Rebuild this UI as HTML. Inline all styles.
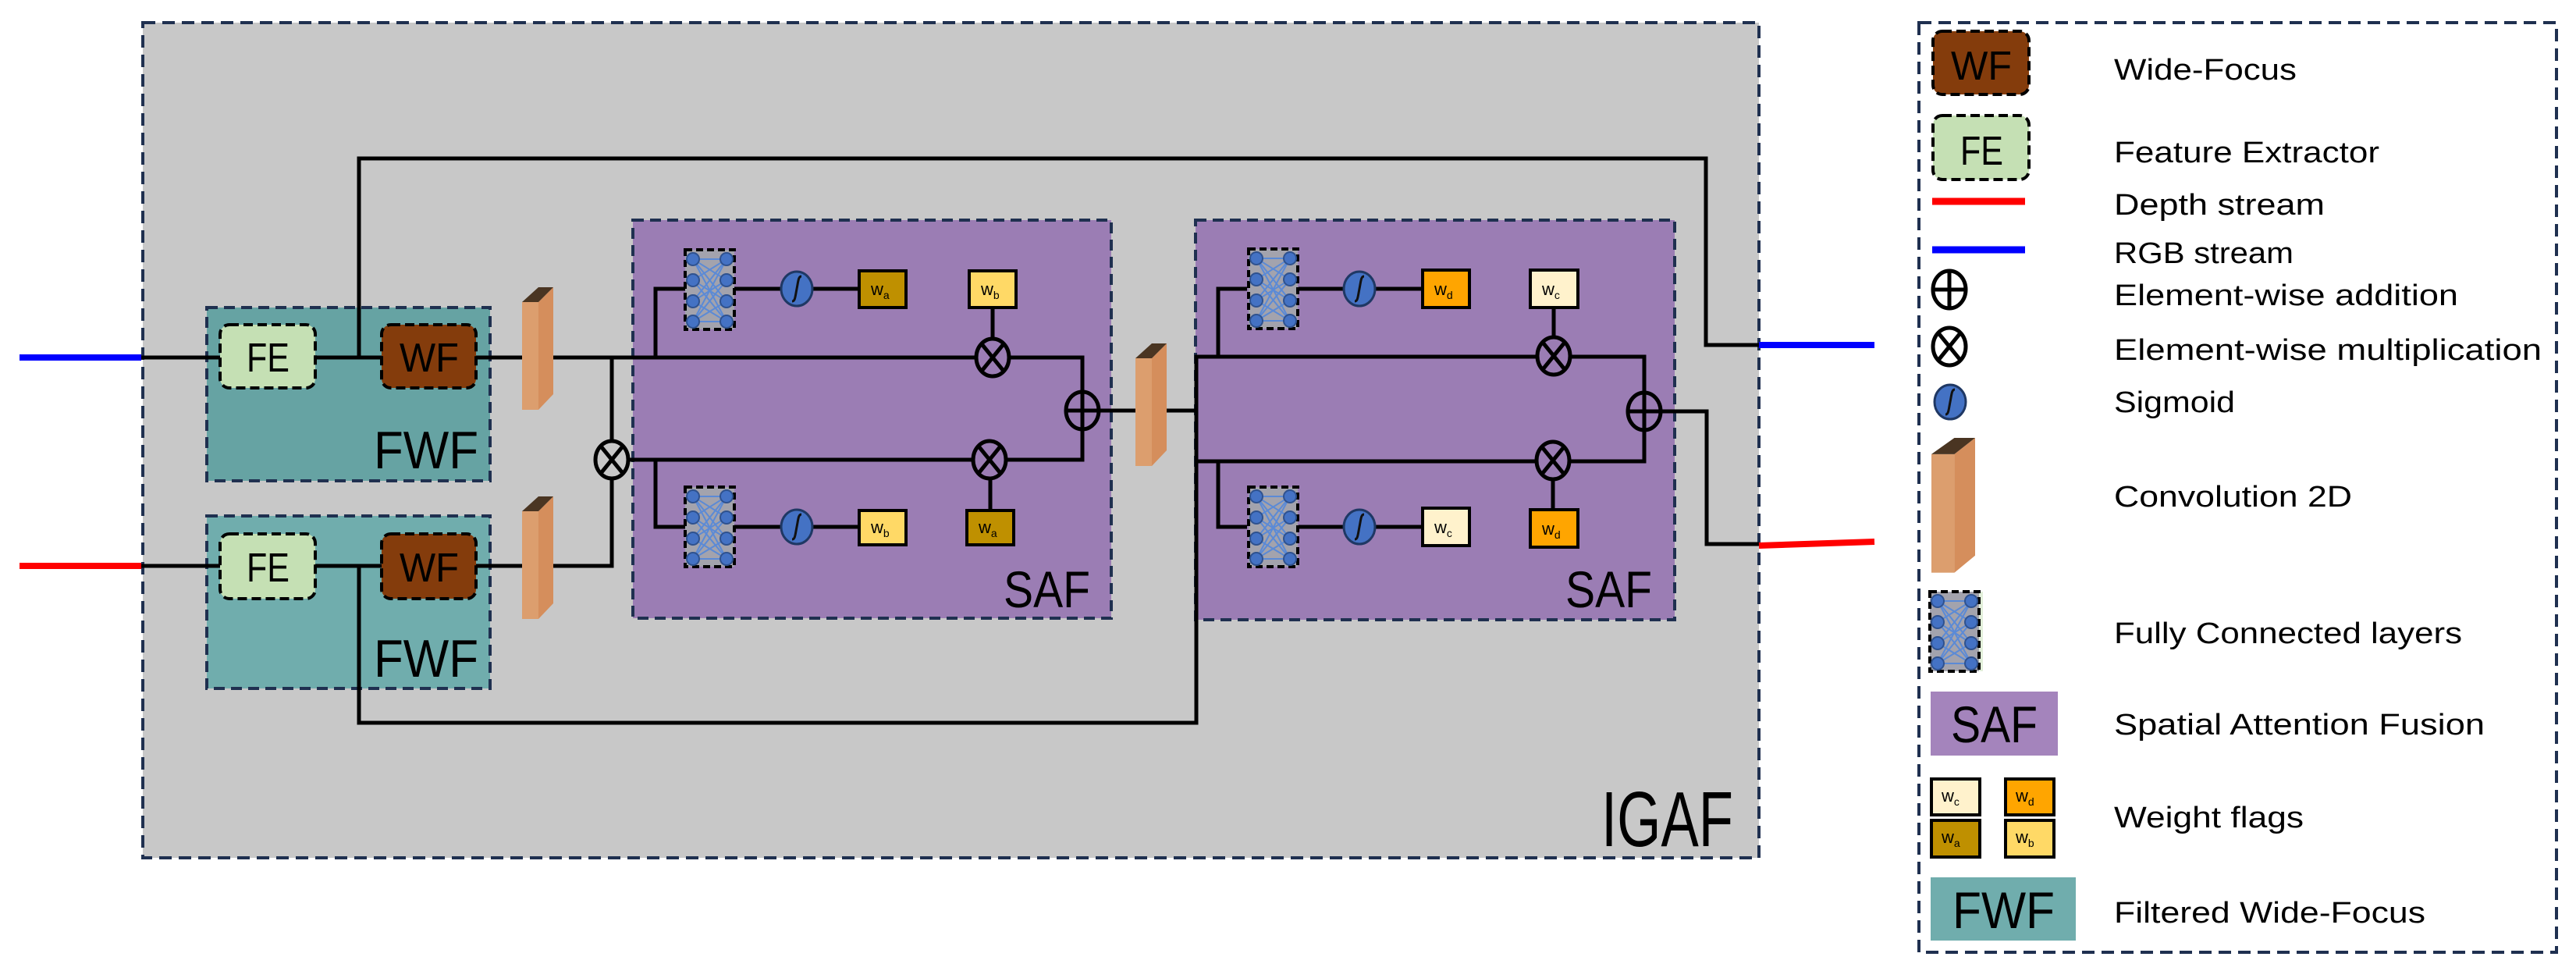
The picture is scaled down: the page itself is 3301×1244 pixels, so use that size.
<!DOCTYPE html>
<html><head><meta charset="utf-8"><style>
html,body{margin:0;padding:0;background:#fff}
svg{display:block}
text{font-family:"Liberation Sans",sans-serif}
</style></head><body>
<svg width="3301" height="1244" viewBox="0 0 3301 1244" xmlns="http://www.w3.org/2000/svg">
<defs>
<g id="fc">
<rect x="0" y="0" width="63" height="102" fill="#a3a3ad" stroke="#000" stroke-width="4" stroke-dasharray="9,5"/>
<g stroke="#5b8ad6" stroke-width="2">
<line x1="10" y1="12" x2="53" y2="39"/><line x1="10" y1="12" x2="53" y2="66"/><line x1="10" y1="12" x2="53" y2="92"/>
<line x1="10" y1="39" x2="53" y2="12"/><line x1="10" y1="39" x2="53" y2="66"/><line x1="10" y1="39" x2="53" y2="92"/>
<line x1="10" y1="66" x2="53" y2="12"/><line x1="10" y1="66" x2="53" y2="39"/><line x1="10" y1="66" x2="53" y2="92"/>
<line x1="10" y1="92" x2="53" y2="12"/><line x1="10" y1="92" x2="53" y2="39"/><line x1="10" y1="92" x2="53" y2="66"/>
<line x1="10" y1="12" x2="53" y2="12"/><line x1="10" y1="92" x2="53" y2="92"/>
</g>
<g fill="#4472c4" stroke="#2f528f" stroke-width="2">
<circle cx="10" cy="12" r="8"/><circle cx="10" cy="39" r="8"/><circle cx="10" cy="66" r="8"/><circle cx="10" cy="92" r="8"/>
<circle cx="53" cy="12" r="8"/><circle cx="53" cy="39" r="8"/><circle cx="53" cy="66" r="8"/><circle cx="53" cy="92" r="8"/>
</g>
</g>
<g id="sig">
<ellipse cx="0" cy="0" rx="20" ry="22" fill="#4472c4" stroke="#1f3864" stroke-width="3"/>
<path d="M-6,16 C-2,16 -2,10 0,0 C2,-10 2,-16 6,-16" fill="none" stroke="#111" stroke-width="3"/>
</g>
<g id="mul">
<ellipse cx="0" cy="0" rx="21" ry="24" fill="none" stroke="#000" stroke-width="5"/>
<line x1="-13" y1="-16" x2="13" y2="16" stroke="#000" stroke-width="5"/>
<line x1="-13" y1="16" x2="13" y2="-16" stroke="#000" stroke-width="5"/>
</g>
<g id="add">
<ellipse cx="0" cy="0" rx="21" ry="24" fill="none" stroke="#000" stroke-width="5"/>
<line x1="-21" y1="0" x2="21" y2="0" stroke="#000" stroke-width="5"/>
<line x1="0" y1="-24" x2="0" y2="24" stroke="#000" stroke-width="5"/>
</g>
<g id="conv">
<rect x="0" y="19" width="21" height="138" fill="#dc9e6e"/>
<polygon points="21,19 40,0 40,137 21,157" fill="#d58e5c"/>
<polygon points="0,19 21,0 40,0 21,19" fill="#4a3522"/>
</g>
</defs>

<!-- IGAF -->
<rect x="183" y="29" width="2071" height="1070" fill="#c8c8c8" stroke="#1f3050" stroke-width="4" stroke-dasharray="16,9"/>
<text x="2052" y="1084" font-size="100" textLength="169" lengthAdjust="spacingAndGlyphs">IGAF</text>

<!-- FWF boxes -->
<rect x="265" y="394" width="363" height="222" fill="#66a3a3" stroke="#1f3050" stroke-width="4" stroke-dasharray="14,8"/>
<rect x="265" y="661" width="363" height="221" fill="#70adad" stroke="#1f3050" stroke-width="4" stroke-dasharray="14,8"/>
<text x="479" y="600" font-size="68" textLength="134" lengthAdjust="spacingAndGlyphs">FWF</text>
<text x="479" y="867" font-size="68" textLength="134" lengthAdjust="spacingAndGlyphs">FWF</text>

<!-- SAF boxes -->
<rect x="811" y="282" width="613" height="510" fill="#9b7db4" stroke="#1f3050" stroke-width="4" stroke-dasharray="14,8"/>
<rect x="1532" y="282" width="614" height="512" fill="#9b7db4" stroke="#1f3050" stroke-width="4" stroke-dasharray="14,8"/>
<text x="1286" y="778" font-size="66" textLength="111" lengthAdjust="spacingAndGlyphs">SAF</text>
<text x="2006" y="778" font-size="66" textLength="111" lengthAdjust="spacingAndGlyphs">SAF</text>

<!-- lines -->
<g stroke="#000" stroke-width="5" fill="none">
<polyline points="181,458 282,458"/>
<polyline points="404,458 489,458"/>
<polyline points="610,458 669,458"/>
<polyline points="709,458 1387,458 1387,503"/>
<polyline points="460,458 460,203 2186,203 2186,442 2254,442"/>
<polyline points="181,725 282,725"/>
<polyline points="404,725 489,725"/>
<polyline points="610,725 669,725"/>
<polyline points="709,725 784,725 784,458"/>
<polyline points="460,725 460,926 1533,926 1533,457 2107,457 2107,503"/>
<polyline points="805,589 1387,589 1387,550"/>
<polyline points="1408,526 1455,526"/>
<polyline points="1495,526 1533,526"/>
<polyline points="1533,591 2107,591 2107,550"/>
<polyline points="2128,527 2187,527 2187,697 2254,697"/>
<!-- SAF1 branches -->
<polyline points="840,458 840,370 878,370"/>
<polyline points="941,370 1101,370"/>
<polyline points="1272,394 1272,434"/>
<polyline points="840,589 840,675 878,675"/>
<polyline points="941,675 1101,675"/>
<polyline points="1269,612 1269,654"/>
<!-- SAF2 branches -->
<polyline points="1561,457 1561,370 1598,370"/>
<polyline points="1664,370 1823,370"/>
<polyline points="1991,394 1991,433"/>
<polyline points="1561,591 1561,675 1598,675"/>
<polyline points="1664,675 1823,675"/>
<polyline points="1990,613 1990,653"/>
</g>

<!-- streams -->
<line x1="25" y1="458" x2="181" y2="458" stroke="#0000ff" stroke-width="8"/>
<line x1="25" y1="725" x2="181" y2="725" stroke="#ff0000" stroke-width="8"/>
<line x1="2254" y1="442" x2="2402" y2="442" stroke="#0000ff" stroke-width="8"/>
<line x1="2254" y1="699" x2="2402" y2="694" stroke="#ff0000" stroke-width="8"/>

<!-- FE / WF -->
<g stroke="#000" stroke-width="4" stroke-dasharray="12,6">
<rect x="282" y="416" width="122" height="81" rx="12" fill="#c5e0b4"/>
<rect x="282" y="684" width="122" height="83" rx="12" fill="#c5e0b4"/>
<rect x="489" y="416" width="121" height="81" rx="12" fill="#843c0c"/>
<rect x="489" y="684" width="121" height="83" rx="12" fill="#843c0c"/>
</g>
<text x="316" y="476" font-size="52" textLength="55" lengthAdjust="spacingAndGlyphs">FE</text>
<text x="316" y="745" font-size="52" textLength="55" lengthAdjust="spacingAndGlyphs">FE</text>
<text x="512" y="476" font-size="52" textLength="76" lengthAdjust="spacingAndGlyphs">WF</text>
<text x="512" y="745" font-size="52" textLength="76" lengthAdjust="spacingAndGlyphs">WF</text>

<!-- convs -->
<use href="#conv" x="669" y="368"/>
<use href="#conv" x="669" y="636"/>
<use href="#conv" x="1455" y="440"/>

<!-- operators -->
<ellipse cx="784" cy="589" rx="21" ry="24" fill="#c8c8c8"/>
<use href="#mul" x="784" y="589"/>
<ellipse cx="1272" cy="458" rx="21" ry="24" fill="#9b7db4"/>
<use href="#mul" x="1272" y="458"/>
<ellipse cx="1268" cy="589" rx="21" ry="24" fill="#9b7db4"/>
<use href="#mul" x="1268" y="589"/>
<use href="#add" x="1387" y="526"/>
<ellipse cx="1991" cy="456" rx="21" ry="24" fill="#9b7db4"/>
<use href="#mul" x="1991" y="456"/>
<ellipse cx="1990" cy="590" rx="21" ry="24" fill="#9b7db4"/>
<use href="#mul" x="1990" y="590"/>
<use href="#add" x="2107" y="527"/>

<!-- FC + sigmoid -->
<use href="#fc" x="878" y="320"/>
<use href="#fc" x="878" y="624"/>
<use href="#fc" x="1600" y="319"/>
<use href="#fc" x="1600" y="624"/>
<use href="#sig" x="1021" y="370"/>
<use href="#sig" x="1021" y="675"/>
<use href="#sig" x="1742" y="370"/>
<use href="#sig" x="1742" y="675"/>

<!-- weight flags -->
<g stroke="#000" stroke-width="4">
<rect x="1101" y="347" width="60" height="47" fill="#bf9000"/>
<rect x="1242" y="347" width="60" height="47" fill="#ffd966"/>
<rect x="1101" y="654" width="60" height="44" fill="#ffd966"/>
<rect x="1239" y="654" width="60" height="44" fill="#bf9000"/>
<rect x="1823" y="346" width="60" height="48" fill="#ffa500"/>
<rect x="1961" y="346" width="61" height="48" fill="#fff2cc"/>
<rect x="1823" y="651" width="60" height="48" fill="#fff2cc"/>
<rect x="1961" y="653" width="61" height="48" fill="#ffa500"/>
</g>
<g font-size="22">
<text x="1116" y="378">w<tspan font-size="14" dy="5">a</tspan></text>
<text x="1257" y="378">w<tspan font-size="14" dy="5">b</tspan></text>
<text x="1116" y="683">w<tspan font-size="14" dy="5">b</tspan></text>
<text x="1254" y="683">w<tspan font-size="14" dy="5">a</tspan></text>
<text x="1838" y="378">w<tspan font-size="14" dy="5">d</tspan></text>
<text x="1976" y="378">w<tspan font-size="14" dy="5">c</tspan></text>
<text x="1838" y="683">w<tspan font-size="14" dy="5">c</tspan></text>
<text x="1976" y="685">w<tspan font-size="14" dy="5">d</tspan></text>
</g>

<!-- LEGEND -->
<rect x="2459" y="29" width="2817" height="1191" fill="none"/>
<rect x="2459" y="29" width="817" height="1191" fill="#fff" stroke="#1f3050" stroke-width="4" stroke-dasharray="16,9"/>
<g stroke="#000" stroke-width="4" stroke-dasharray="12,6">
<rect x="2477" y="40" width="123" height="81" rx="12" fill="#843c0c"/>
<rect x="2477" y="148" width="123" height="82" rx="12" fill="#c5e0b4"/>
</g>
<text x="2500" y="102" font-size="52" textLength="78" lengthAdjust="spacingAndGlyphs">WF</text>
<text x="2512" y="211" font-size="52" textLength="55" lengthAdjust="spacingAndGlyphs">FE</text>
<line x1="2476" y1="258" x2="2595" y2="258" stroke="#ff0000" stroke-width="9"/>
<line x1="2476" y1="320" x2="2595" y2="320" stroke="#0000ff" stroke-width="9"/>
<use href="#add" x="2498" y="371"/>
<use href="#mul" x="2498" y="444"/>
<use href="#sig" x="2499" y="515"/>
<g transform="translate(2475,561) scale(1.4,1.1)"><use href="#conv"/></g>
<g transform="translate(2473,758)"><rect x="0" y="0" width="68" height="102" fill="#e2efda"/><use href="#fc"/></g>
<rect x="2474" y="886" width="163" height="82" fill="#a484bc"/>
<text x="2500" y="951" font-size="66" textLength="111" lengthAdjust="spacingAndGlyphs">SAF</text>
<g stroke="#000" stroke-width="4">
<rect x="2475" y="998" width="62" height="46" fill="#fff2cc"/>
<rect x="2570" y="998" width="62" height="46" fill="#ffa500"/>
<rect x="2475" y="1051" width="62" height="47" fill="#bf9000"/>
<rect x="2570" y="1051" width="62" height="47" fill="#ffd966"/>
</g>
<g font-size="22">
<text x="2488" y="1027">w<tspan font-size="14" dy="5">c</tspan></text>
<text x="2583" y="1027">w<tspan font-size="14" dy="5">d</tspan></text>
<text x="2488" y="1080">w<tspan font-size="14" dy="5">a</tspan></text>
<text x="2583" y="1080">w<tspan font-size="14" dy="5">b</tspan></text>
</g>
<rect x="2474" y="1124" width="186" height="81" fill="#70adad"/>
<text x="2502" y="1189" font-size="66" textLength="131" lengthAdjust="spacingAndGlyphs">FWF</text>

<g font-size="38">
<text x="2709" y="102" textLength="234" lengthAdjust="spacingAndGlyphs">Wide-Focus</text>
<text x="2709" y="208" textLength="340" lengthAdjust="spacingAndGlyphs">Feature Extractor</text>
<text x="2709" y="275" textLength="270" lengthAdjust="spacingAndGlyphs">Depth stream</text>
<text x="2709" y="337" textLength="230" lengthAdjust="spacingAndGlyphs">RGB stream</text>
<text x="2709" y="391" textLength="441" lengthAdjust="spacingAndGlyphs">Element-wise addition</text>
<text x="2709" y="461" textLength="548" lengthAdjust="spacingAndGlyphs">Element-wise multiplication</text>
<text x="2709" y="528" textLength="155" lengthAdjust="spacingAndGlyphs">Sigmoid</text>
<text x="2709" y="649" textLength="305" lengthAdjust="spacingAndGlyphs">Convolution 2D</text>
<text x="2709" y="824" textLength="446" lengthAdjust="spacingAndGlyphs">Fully Connected layers</text>
<text x="2709" y="941" textLength="475" lengthAdjust="spacingAndGlyphs">Spatial Attention Fusion</text>
<text x="2709" y="1060" textLength="243" lengthAdjust="spacingAndGlyphs">Weight flags</text>
<text x="2709" y="1182" textLength="399" lengthAdjust="spacingAndGlyphs">Filtered Wide-Focus</text>
</g>
</svg>
</body></html>
